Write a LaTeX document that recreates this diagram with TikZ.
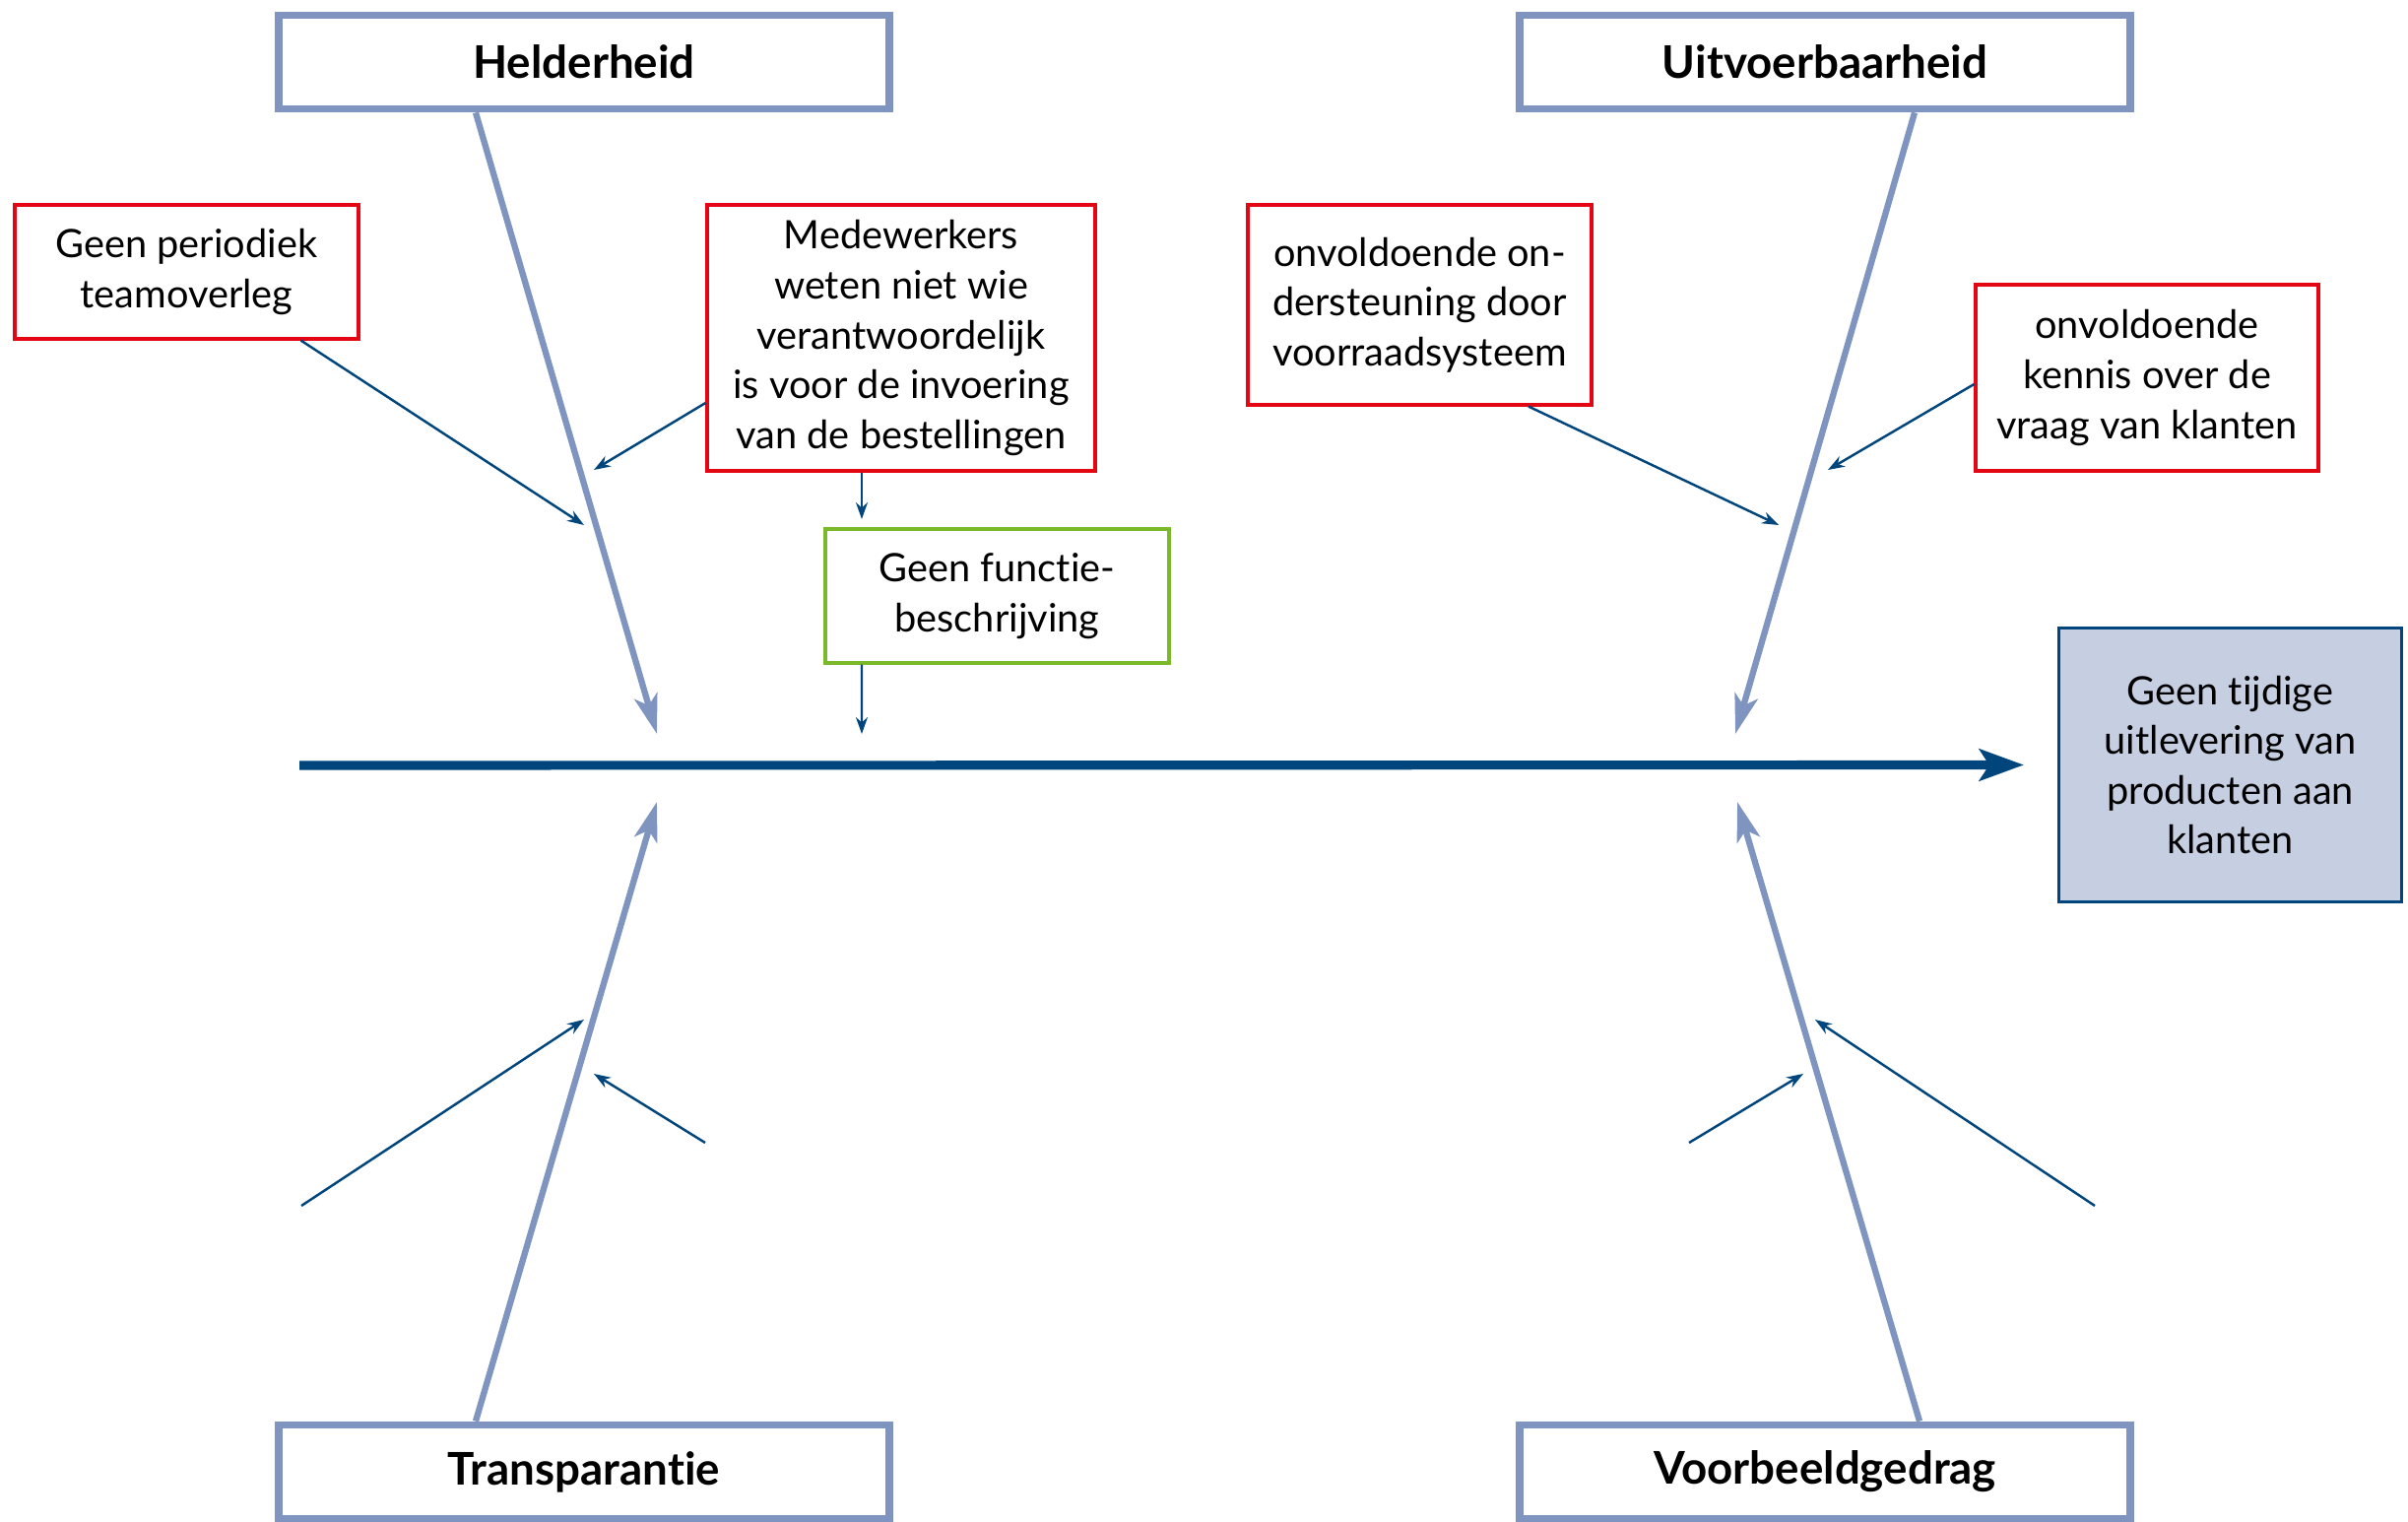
\documentclass[tikz,border=0pt]{standalone}
\usepackage{fontspec}
\setmainfont{Lato}[Ligatures={NoCommon}]
\usepackage{tikz}
\usetikzlibrary{shapes, arrows.meta}
\definecolor{bonecol}{RGB}{127,149,191}
\definecolor{spinecol}{RGB}{0,69,124}
\definecolor{causered}{RGB}{227,6,19}
\definecolor{causegreen}{RGB}{122,185,41}
\definecolor{effectfill}{RGB}{198,207,226}
\tikzstyle{mcell} = [rectangle, draw=bonecol, line width=2.2pt, fill=white, minimum width=6.2cm, minimum height=0.95cm, text centered, font=\fontsize{13}{15}\selectfont\bfseries]
\tikzstyle{rcell} = [rectangle, draw=causered, line width=0.9pt, fill=white, align=center, inner sep=0pt, font=\fontsize{11.3}{14.4}\selectfont]
\tikzstyle{gcell} = [rcell, draw=causegreen]
\tikzstyle{ecell} = [rectangle, draw=spinecol, line width=0.9pt, fill=effectfill, align=center, inner sep=0pt, font=\fontsize{11.3}{14.4}\selectfont]
\tikzstyle{spine} = [draw=spinecol, line width=2.6pt, -{Stealth[length=0.45cm, width=0.32cm, inset=0.1cm]}]
\tikzstyle{bone} = [draw=bonecol, line width=1.8pt, -{Stealth[length=0.4cm, width=0.24cm, inset=0.1cm]}]
\tikzstyle{line} = [draw=spinecol, line width=0.7pt, -{Stealth[length=0.17cm, width=0.12cm]}]

\begin{document}
\begin{tikzpicture}
    \useasboundingbox (0,0) rectangle (24.45,-15.45);

    % categories
    \node[mcell](helder) at (5.93,-0.63){Helderheid};
    \node[mcell](uitvoer) at (18.53,-0.63){Uitvoerbaarheid};
    \node[mcell](transp) at (5.93,-14.94){Transparantie};
    \node[mcell](voorbeeld) at (18.53,-14.94){Voorbeeldgedrag};

    % effect
    \node[ecell, minimum width=3.48cm, minimum height=2.78cm](effect) at (22.645,-7.765){Geen tijdige\\uitlevering van\\producten aan\\klanten};

    % causes
    \node[rcell, minimum width=3.49cm, minimum height=1.36cm](team) at (1.895,-2.76){Geen periodiek\\teamoverleg};
    \node[rcell, minimum width=3.94cm, minimum height=2.7cm](medew) at (9.15,-3.43){Medewerkers\\weten niet wie\\verantwoordelijk\\is voor de invoering\\van de bestellingen};
    \node[gcell, minimum width=3.49cm, minimum height=1.36cm](functie) at (10.125,-6.05){Geen functie-\\beschrijving};
    \node[rcell, minimum width=3.49cm, minimum height=2.03cm](voorraad) at (14.415,-3.095){onvoldoende on-\\dersteuning door\\voorraadsysteem};
    \node[rcell, minimum width=3.48cm, minimum height=1.89cm](kennis) at (21.80,-3.835){onvoldoende\\kennis over de\\vraag van klanten};

    \coordinate (tail) at (3.04,-7.77);
    \coordinate (htip) at (6.67,-7.45);
    \coordinate (utip) at (17.62,-7.45);
    \coordinate (ttip) at (6.67,-8.14);
    \coordinate (vtip) at (17.64,-8.14);

    \path[spine] (tail) -- ([xshift=-0.34cm]effect.west);
    \path[bone] ([xshift=-1.10cm]helder.south) -- (htip);
    \path[bone] ([xshift=0.91cm]uitvoer.south) -- (utip);
    \path[bone] ([xshift=-1.10cm]transp.north) -- (ttip);
    \path[bone] ([xshift=0.96cm]voorbeeld.north) -- (vtip);

    \coordinate (teamend) at (5.93,-5.33);
    \coordinate (medewend) at (6.03,-4.77);
    \coordinate (downend) at (8.75,-5.27);
    \coordinate (functieend) at (8.75,-7.45);
    \coordinate (voorraadend) at (18.06,-5.33);
    \coordinate (kennisend) at (18.56,-4.77);

    \path[line] ([xshift=1.16cm]team.south) -- (teamend);
    \path[line] ([yshift=-0.66cm]medew.west) -- (medewend);
    \path[line] ([xshift=-0.40cm]medew.south) -- (downend);
    \path[line] ([xshift=-1.375cm]functie.south) -- (functieend);
    \path[line] ([xshift=1.105cm]voorraad.south) -- (voorraadend);
    \path[line] ([yshift=-0.065cm]kennis.west) -- (kennisend);

    % empty causes below
    \coordinate (ta) at (3.06,-12.24);
    \coordinate (tb) at (5.93,-10.35);
    \coordinate (tc) at (7.16,-11.60);
    \coordinate (td) at (6.03,-10.90);
    \coordinate (va) at (17.15,-11.60);
    \coordinate (vb) at (18.31,-10.90);
    \coordinate (vc) at (21.27,-12.24);
    \coordinate (vd) at (18.43,-10.35);

    \path[line] (ta) -- (tb);
    \path[line] (tc) -- (td);
    \path[line] (va) -- (vb);
    \path[line] (vc) -- (vd);
\end{tikzpicture}
\end{document}
